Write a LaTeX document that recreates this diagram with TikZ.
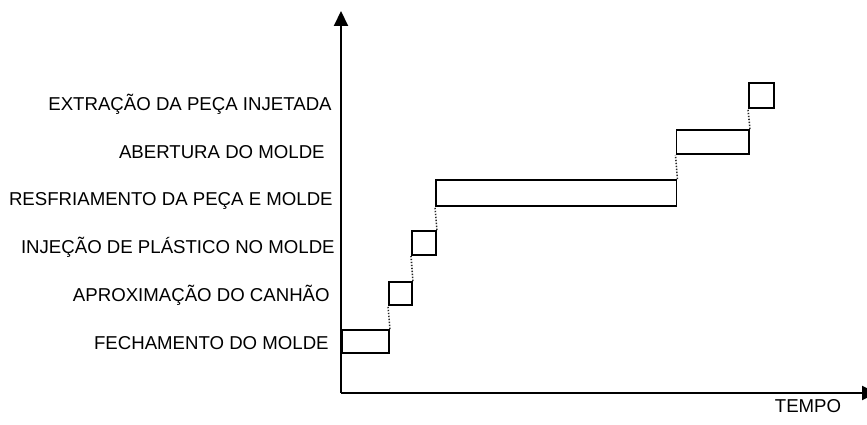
\documentclass[tikz,border=0pt]{standalone}
\usepackage{fontspec}
\setmainfont{Liberation Sans}
\usetikzlibrary{arrows.meta}

\begin{document}
\begin{tikzpicture}[every node/.style={font=\fontsize{10.6pt}{12pt}\selectfont},
	eixo/.style={line width=1.1pt, -{Triangle[length=3mm, width=2.8mm]}},
	etapa/.style={draw, line width=1.1pt, inner sep=0pt, anchor=south west},
	ligacao/.style={line width=0.9pt, black!85, dash pattern=on 0.8pt off 0.9pt},
	rotulo/.style={anchor=base east, inner sep=0pt}]
	\useasboundingbox (0,0) rectangle (17.34,8.5);
	\coordinate (o) at (6.82,0.64);
	\coordinate (topo) at (6.82,8.28);
	\coordinate (fim) at (17.54,0.64);
	\draw[eixo] (o) -- (topo);
	\draw[eixo] (o) -- (fim);
	\node[anchor=base, inner sep=0pt] (tempo) at (16.16,0.24) {TEMPO};
	\foreach \nome/\x/\y/\txt in {fechl/6.58/1.51/FECHAMENTO DO MOLDE,
		aproxl/6.60/2.47/APROXIMAÇÃO DO CANHÃO,
		injl/6.70/3.43/INJEÇÃO DE PLÁSTICO NO MOLDE,
		resfl/6.66/4.39/RESFRIAMENTO DA PEÇA E MOLDE,
		abertl/6.50/5.33/ABERTURA DO MOLDE,
		extrl/6.64/6.29/EXTRAÇÃO DA PEÇA INJETADA} {
		\node[rotulo] (\nome) at (\x,\y) {\txt};
	}
	\node[etapa, minimum width=0.94cm, minimum height=0.46cm] (fech) at (6.82,1.42) {};
	\node[etapa, minimum width=0.46cm, minimum height=0.46cm] (aprox) at (7.76,2.38) {};
	\node[etapa, minimum width=0.48cm, minimum height=0.48cm] (inj) at (8.22,3.38) {};
	\node[etapa, minimum width=4.81cm, minimum height=0.52cm] (resf) at (8.70,4.36) {};
	\node[etapa, minimum width=1.45cm, minimum height=0.48cm] (abert) at (13.51,5.40) {};
	\node[etapa, minimum width=0.50cm, minimum height=0.50cm] (extr) at (14.96,6.32) {};
	\draw[ligacao] (fech.north east) -- (aprox.south west);
	\draw[ligacao] (aprox.north east) -- (inj.south west);
	\draw[ligacao] (inj.north east) -- (resf.south west);
	\draw[ligacao] (resf.north east) -- (abert.south west);
	\draw[ligacao] (abert.north east) -- (extr.south west);
\end{tikzpicture}
\end{document}
